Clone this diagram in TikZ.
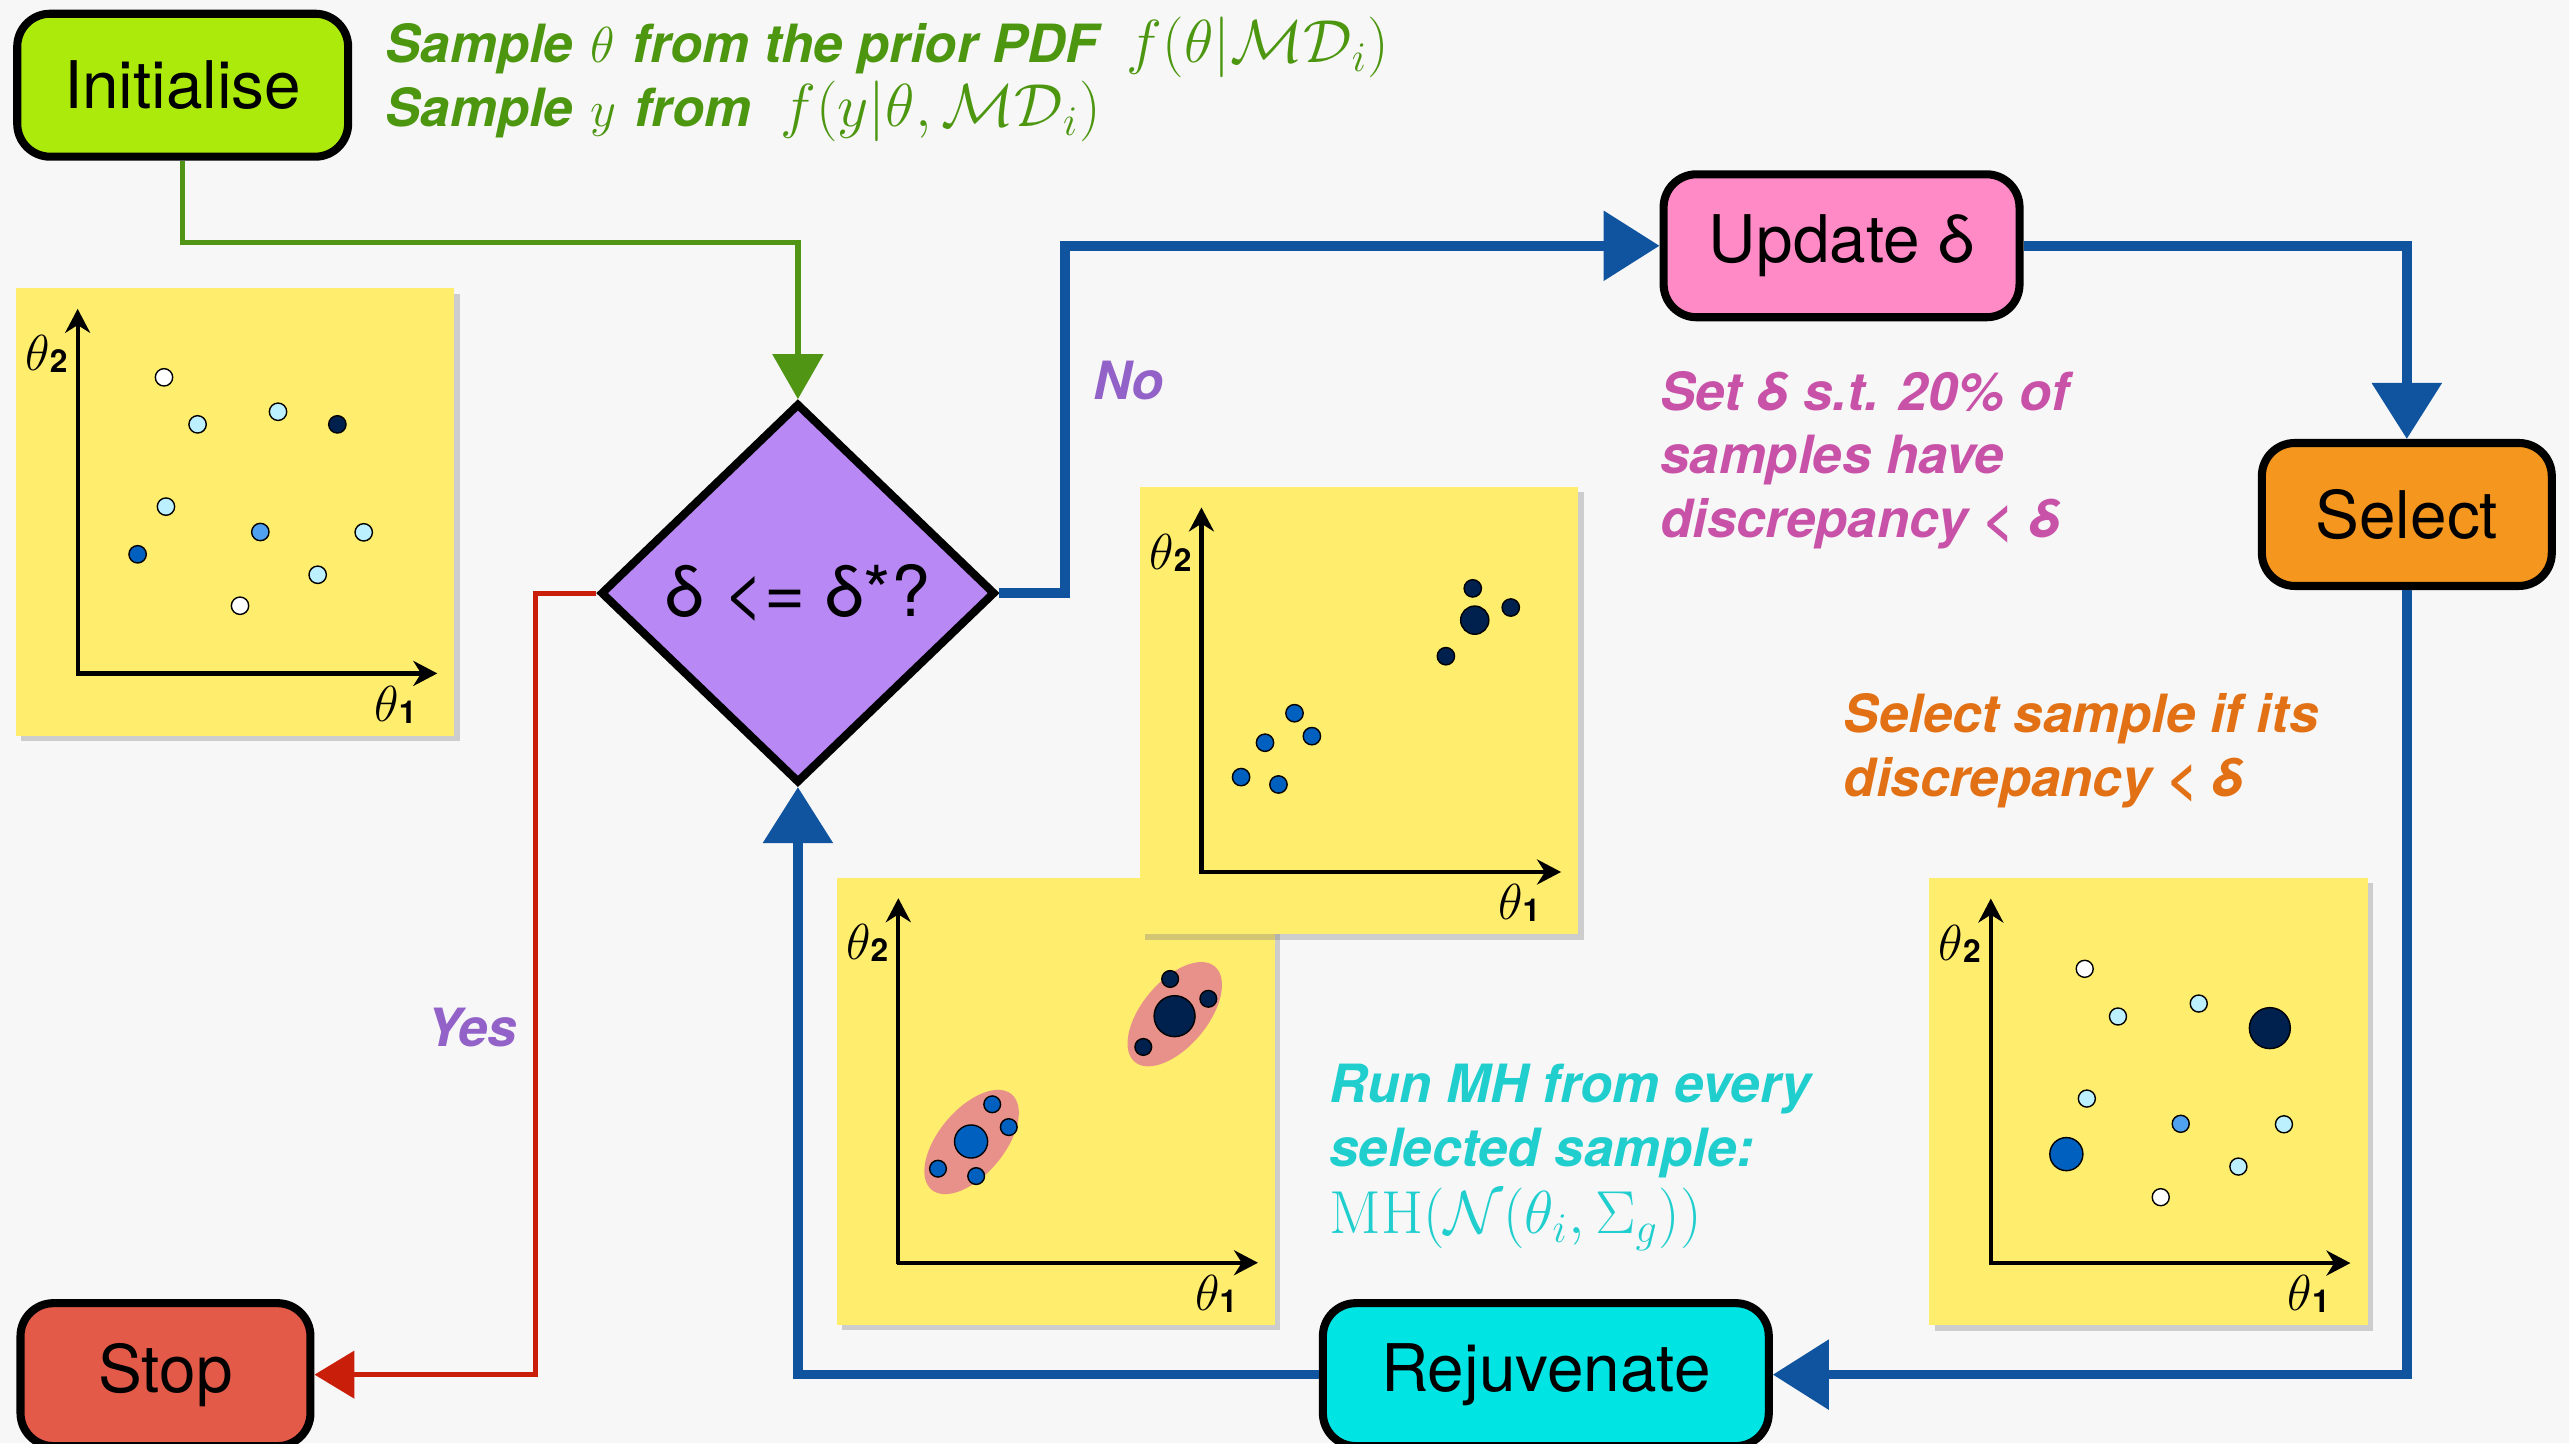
\documentclass[tikz,border=0pt]{standalone}
\usepackage{amsmath}
\usepackage[no-math]{fontspec}
\setmainfont{TeX Gyre Heros}
\usepackage{tikz}
\usetikzlibrary{shapes, arrows.meta, shadows, positioning}

\definecolor{bgcol}{RGB}{247,247,247}
\definecolor{initcol}{RGB}{172,234,12}
\definecolor{testcol}{RGB}{184,136,244}
\definecolor{updatecol}{RGB}{255,138,198}
\definecolor{selectcol}{RGB}{245,150,30}
\definecolor{rejuvcol}{RGB}{0,228,228}
\definecolor{stopcol}{RGB}{228,90,72}
\definecolor{flowblue}{RGB}{16,84,160}
\definecolor{flowgreen}{RGB}{80,150,20}
\definecolor{flowred}{RGB}{200,30,10}
\definecolor{notegreen}{RGB}{76,150,16}
\definecolor{notepink}{RGB}{200,82,168}
\definecolor{noteorange}{RGB}{226,112,20}
\definecolor{notecyan}{RGB}{32,206,206}
\definecolor{labelpurple}{RGB}{146,98,200}
\definecolor{panelyellow}{RGB}{255,237,110}
\definecolor{ptcyan}{RGB}{188,240,255}
\definecolor{ptmid}{RGB}{80,162,240}
\definecolor{ptblue}{RGB}{0,96,192}
\definecolor{ptnavy}{RGB}{0,32,78}
\definecolor{blobcol}{RGB}{232,144,138}

\tikzstyle{process} = [rectangle, rounded corners=0.33cm, draw=black, line width=2.3pt,
                       minimum height=1.43cm, font=\fontsize{18.7}{22}\selectfont]
\tikzstyle{decision} = [diamond, draw=black, line width=2.3pt, fill=testcol, inner sep=0pt,
                        minimum width=3.95cm, minimum height=3.8cm, font=\fontsize{20}{24}\selectfont]
\tikzstyle{note} = [anchor=north west, inner sep=0pt, align=left,
                    font=\fontsize{15}{18.1}\selectfont\bfseries\itshape]
\tikzstyle{blueflow} = [draw=flowblue, line width=2.7pt, -{Triangle[length=0.56cm, width=0.68cm]}]
\tikzstyle{greenflow} = [draw=flowgreen, line width=1.5pt, -{Triangle[length=0.45cm, width=0.5cm]}]
\tikzstyle{redflow} = [draw=flowred, line width=1.4pt, -{Triangle[length=0.4cm, width=0.47cm]}]
\tikzstyle{panel} = [fill=panelyellow, drop shadow={shadow xshift=1.5pt, shadow yshift=-1.5pt, opacity=0.35}]
\tikzstyle{plotaxis} = [line width=1.2pt, -{Stealth[length=0.24cm, width=0.25cm]}]
\tikzstyle{sampledot} = [draw=black, line width=0.4pt]
\tikzstyle{axlabel} = [inner sep=0pt, font=\fontsize{13.5}{14}\selectfont]

\tikzset{scatterframe/.pic={
  \fill[panel] (-37.5,-235) rectangle (230,38);
  \draw[plotaxis] (0,1) -- (0,-222.5);
  \draw[plotaxis] (-1,0) -- (219.5,0);
  \node[axlabel] at (-19,-195) {$\theta$\raisebox{-0.6pt}{\fontsize{9}{9}\selectfont\bfseries 2}};
  \node[axlabel] at (194,19) {$\theta$\raisebox{-0.6pt}{\fontsize{9}{9}\selectfont\bfseries 1}};
}}

\begin{document}
\begin{tikzpicture}[x=0.016384cm, y=-0.016384cm]
  \fill[bgcol] (0,0) rectangle (1568,881);
  \useasboundingbox (0,0) rectangle (1568,881);

  % prior samples
  \pic at (47.4,411) {scatterframe};
  \filldraw[sampledot, fill=white] (100.1,230.3) circle (5.3);
  \filldraw[sampledot, fill=ptcyan] (120.6,259) circle (5.3);
  \filldraw[sampledot, fill=ptcyan] (169.7,251.3) circle (5.3);
  \filldraw[sampledot, fill=ptnavy] (205.9,259) circle (5.3);
  \filldraw[sampledot, fill=ptcyan] (101.3,309.2) circle (5.3);
  \filldraw[sampledot, fill=ptblue] (84,338.3) circle (5.3);
  \filldraw[sampledot, fill=ptmid] (158.9,324.7) circle (5.3);
  \filldraw[sampledot, fill=ptcyan] (222,324.9) circle (5.3);
  \filldraw[sampledot, fill=ptcyan] (193.9,350.8) circle (5.3);
  \filldraw[sampledot, fill=white] (146.5,369.7) circle (5.3);

  % selected samples
  \pic at (1215.1,770.9) {scatterframe};
  \filldraw[sampledot, fill=white] (1272.4,591.3) circle (5.2);
  \filldraw[sampledot, fill=ptcyan] (1292.7,620.4) circle (5.2);
  \filldraw[sampledot, fill=ptcyan] (1342,612.5) circle (5.2);
  \filldraw[sampledot, fill=ptnavy] (1385.4,627.5) circle (12.5);
  \filldraw[sampledot, fill=ptcyan] (1273.7,670.5) circle (5.2);
  \filldraw[sampledot, fill=ptblue] (1261.2,704.4) circle (10.1);
  \filldraw[sampledot, fill=ptmid] (1331,685.9) circle (5.2);
  \filldraw[sampledot, fill=ptcyan] (1394,686.2) circle (5.2);
  \filldraw[sampledot, fill=ptcyan] (1366.2,712) circle (5.2);
  \filldraw[sampledot, fill=white] (1318.8,730.7) circle (5.2);

  % MH moves
  \pic at (548.3,770.7) {scatterframe};
  \fill[blobcol, rotate around={50:(593,697)}] (593,697) ellipse [x radius=38, y radius=20];
  \fill[blobcol, rotate around={50:(717,619)}] (717,619) ellipse [x radius=38, y radius=20];
  \filldraw[sampledot, fill=ptblue] (592.7,696.7) circle (10.1);
  \filldraw[sampledot, fill=ptblue] (605.6,674) circle (5.1);
  \filldraw[sampledot, fill=ptblue] (615.7,687.9) circle (5.1);
  \filldraw[sampledot, fill=ptblue] (572.5,713.3) circle (5.1);
  \filldraw[sampledot, fill=ptblue] (595.8,717.8) circle (5.1);
  \filldraw[sampledot, fill=ptnavy] (716.9,620.2) circle (12.5);
  \filldraw[sampledot, fill=ptnavy] (714.2,597.5) circle (5.1);
  \filldraw[sampledot, fill=ptnavy] (737.5,609.6) circle (5.1);
  \filldraw[sampledot, fill=ptnavy] (697.8,639) circle (5.1);

  % new population
  \pic at (733.3,532.2) {scatterframe};
  \filldraw[sampledot, fill=ptnavy] (898.9,359.1) circle (5.3);
  \filldraw[sampledot, fill=ptnavy] (900.1,378.5) circle (8.6);
  \filldraw[sampledot, fill=ptnavy] (922.1,370.8) circle (5.3);
  \filldraw[sampledot, fill=ptnavy] (882.5,400.5) circle (5.3);
  \filldraw[sampledot, fill=ptblue] (790.1,435.3) circle (5.3);
  \filldraw[sampledot, fill=ptblue] (772.1,453.3) circle (5.3);
  \filldraw[sampledot, fill=ptblue] (800.7,449.3) circle (5.3);
  \filldraw[sampledot, fill=ptblue] (757.5,474.3) circle (5.3);
  \filldraw[sampledot, fill=ptblue] (780.3,478.8) circle (5.3);

  % flow chart
  \node (Init) [process, fill=initcol, minimum width=3.31cm] at (111.5,52) {Initialise};
  \node (SampleA) [note, text=notegreen, anchor=base west] at (235,38)
    {Sample\,\,$\theta$\,\,from the prior PDF~~{\fontsize{18}{20}\selectfont$f(\theta|\mathcal{MD}_i)$}};
  \node (SampleB) [note, text=notegreen, anchor=base west] at (235,77)
    {Sample\,\,$y$\,\,from~~{\fontsize{18}{20}\selectfont$f(y|\theta,\mathcal{MD}_i)$}};

  \node (Test) [decision] at (487,362) {δ <= δ*?};
  \draw[greenflow] (Init.south) -- ++(0,50) -| (Test.north);

  \node (Update) [process, fill=updatecol, minimum width=3.56cm] at (1124,150) {Update δ};
  \draw[blueflow] (Test.east) -- ++(40,0) |- (Update.west);
  \node (NoLabel) [note, text=labelpurple, anchor=center] at (689,232) {No};
  \node (SetNote) [note, text=notepink] at (1013,226) {Set δ s.t. 20\% of\\samples have\\discrepancy < δ};

  \node (Select) [process, fill=selectcol, minimum width=2.9cm] at (1469,314) {Select};
  \draw[blueflow] (Update.east) -| (Select.north);
  \node (SelNote) [note, text=noteorange] at (1125,423) {Select sample if its\\discrepancy < δ};

  \node (Rejuv) [process, fill=rejuvcol, minimum width=4.46cm] at (943.5,839) {Rejuvenate};
  \draw[blueflow] (Select.south) |- (Rejuv.east);
  \draw[blueflow] (Rejuv.west) -| (Test.south);
  \node (MHNote) [note, text=notecyan] at (811,649)
    {Run MH from every\\selected sample:\\[1pt]{\fontsize{18}{20}\selectfont$\mathrm{MH}(\mathcal{N}(\theta_i,\Sigma_g))$}};

  \node (Stop) [process, fill=stopcol, minimum width=2.9cm] at (101,839) {Stop};
  \draw[redflow] (Test.west) -- ++(-37,0) |- (Stop.east);
  \node (YesLabel) [note, text=labelpurple, anchor=center] at (288,627) {Yes};
\end{tikzpicture}
\end{document}
